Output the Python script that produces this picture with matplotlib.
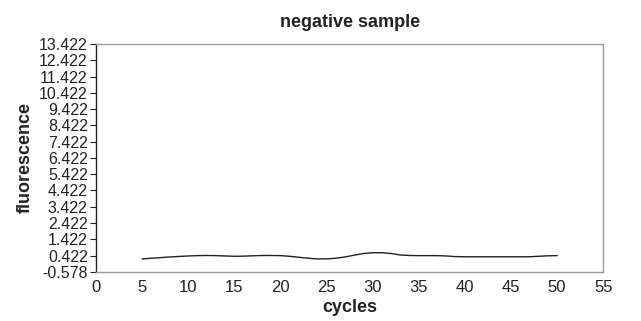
import matplotlib
matplotlib.use("Agg")
import matplotlib.pyplot as plt
import numpy as np

plt.rcParams['font.family'] = ['Liberation Sans', 'DejaVu Sans']

cycles = list(range(5, 51))
fluorescence = [0.22, 0.26, 0.30, 0.34, 0.37, 0.40, 0.42, 0.43, 0.42, 0.40,
                0.38, 0.39, 0.41, 0.43, 0.43, 0.42, 0.38, 0.32, 0.26, 0.22,
                0.22, 0.26, 0.34, 0.45, 0.55, 0.60, 0.60, 0.55, 0.46, 0.43,
                0.42, 0.42, 0.42, 0.40, 0.36, 0.35, 0.35, 0.35, 0.35, 0.35,
                0.35, 0.35, 0.35, 0.38, 0.41, 0.42]
y_ticks = [-0.578 + i for i in range(15)]
y_tick_labels = [f"{v:.3f}" for v in y_ticks]
x_ticks = list(range(0, 56, 5))

fig = plt.figure(figsize=(6.41, 3.21), dpi=100)
ax = fig.add_axes([0.150, 0.153, 0.791, 0.710])
ax.plot(cycles, fluorescence, color='#222222', lw=1.0)
ax.set_xlim(0, 55)
ax.set_ylim(-0.578, 13.422)
ax.set_yticks(y_ticks)
ax.set_yticklabels(y_tick_labels)
ax.set_xticks(x_ticks)
ax.tick_params(axis='x', length=0, pad=6, labelsize=12, colors='#222222')
ax.tick_params(axis='y', length=4, width=0.8, pad=2, labelsize=11.5, colors='#222222', direction='out')
for s in ['top', 'right', 'bottom']:
    ax.spines[s].set_color('#999999')
    ax.spines[s].set_linewidth(1.0)
ax.spines['left'].set_color('#222222')
ax.spines['left'].set_linewidth(1.0)
ax.set_title('negative sample', fontsize=13, fontweight='bold', pad=12, color='#222222')
ax.set_xlabel('cycles', fontsize=13, fontweight='bold', labelpad=3, color='#222222')
ax.set_ylabel('fluorescence', fontsize=13, fontweight='bold', labelpad=4, color='#222222')
fig.savefig('out.png', dpi=100)
